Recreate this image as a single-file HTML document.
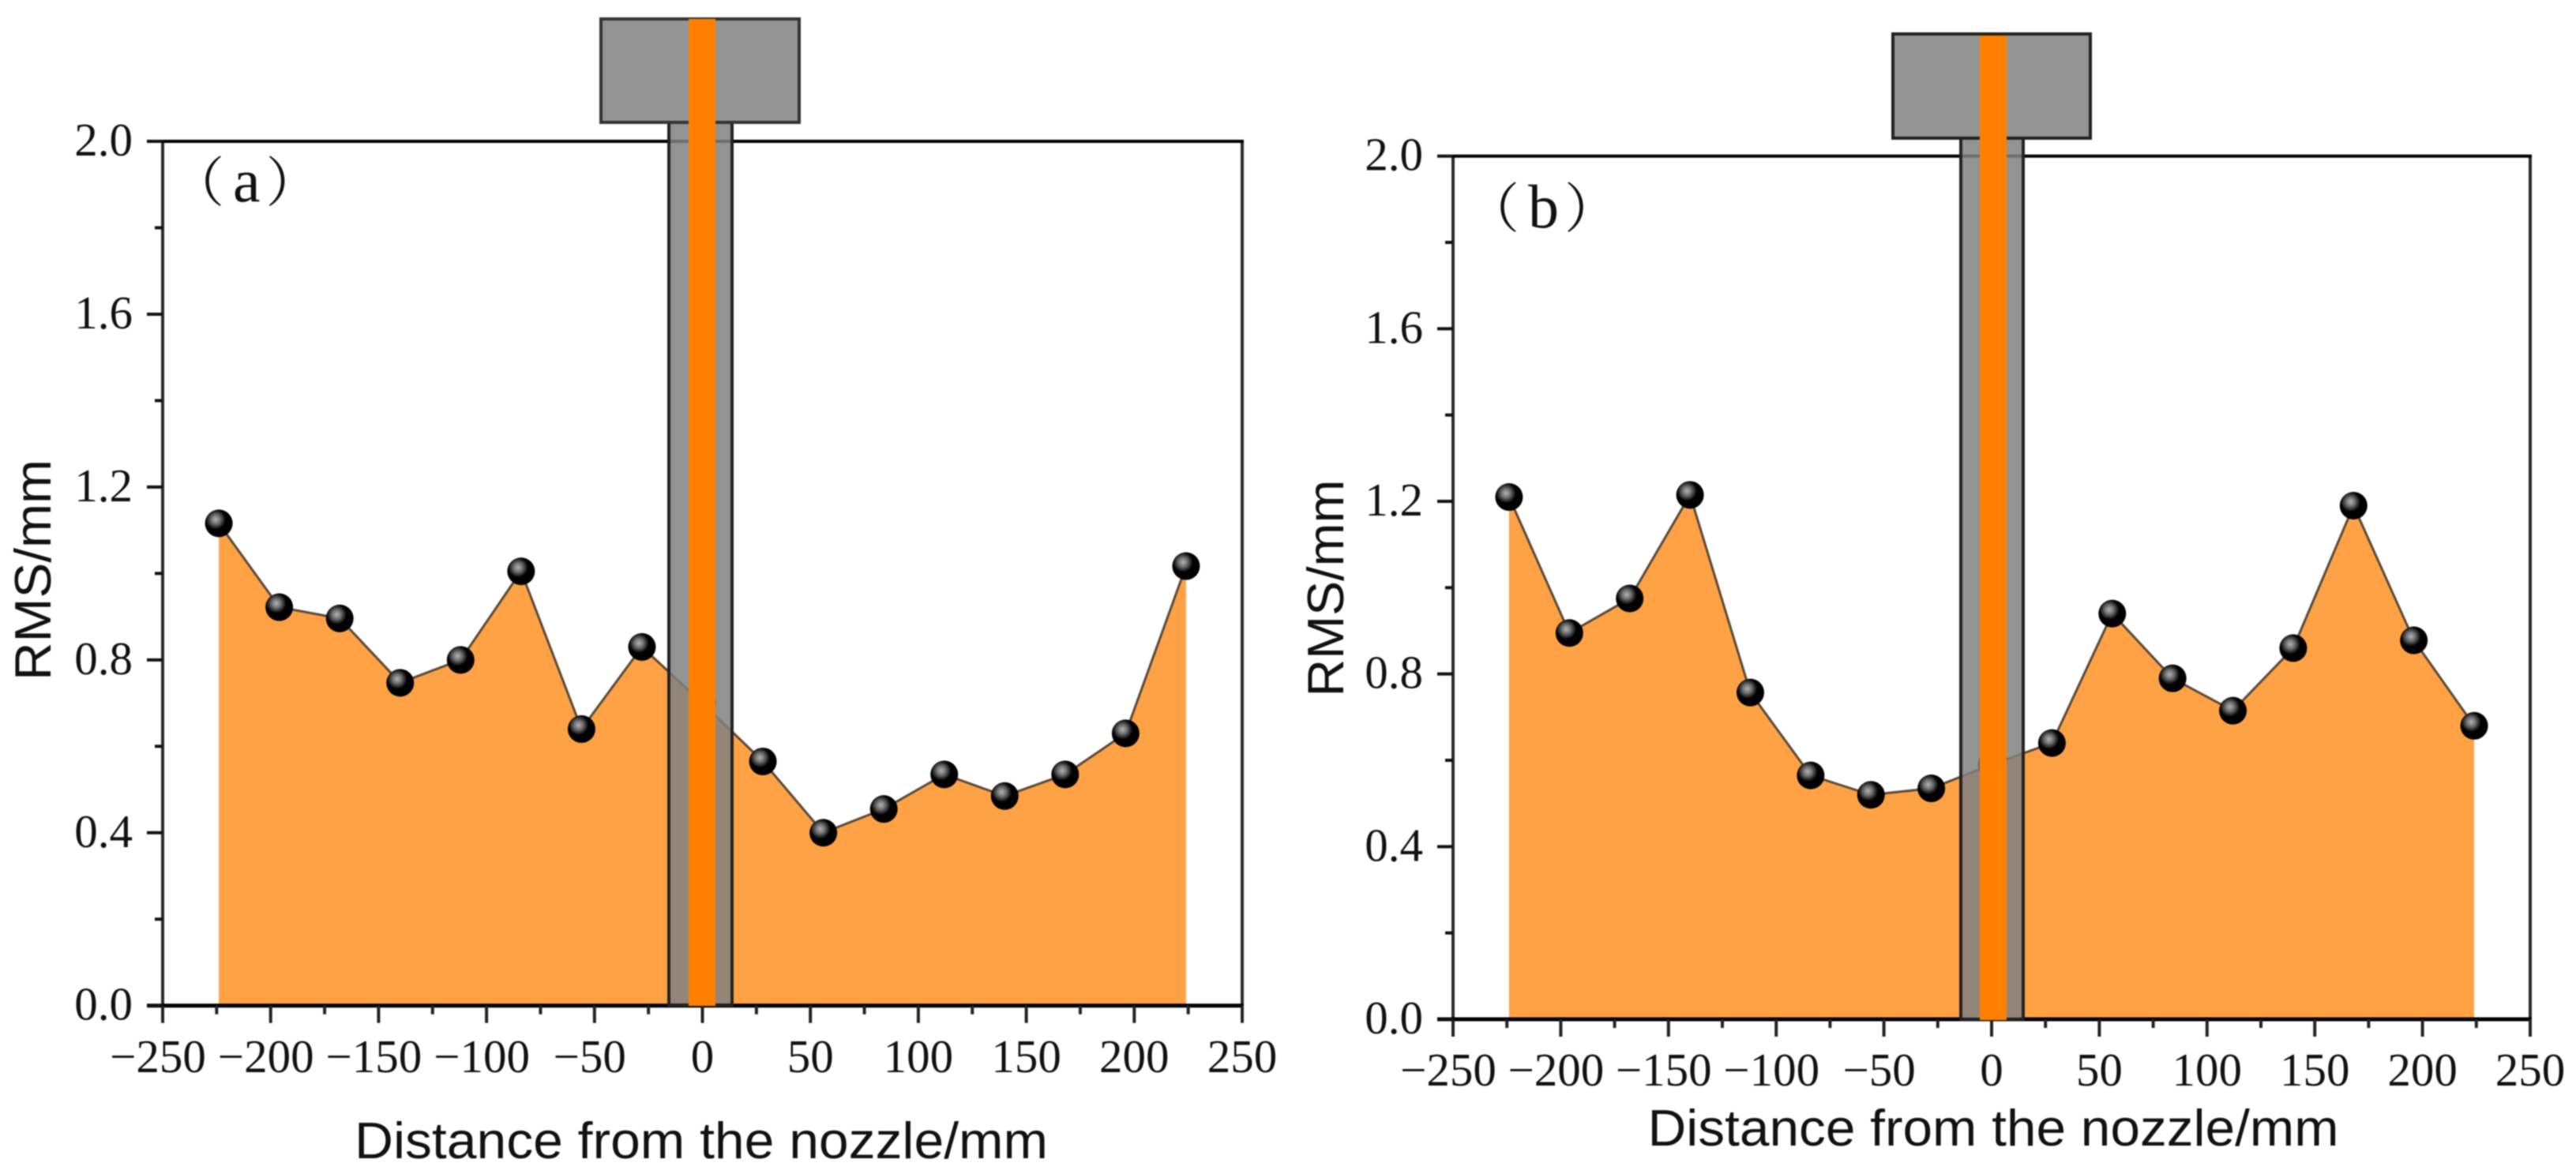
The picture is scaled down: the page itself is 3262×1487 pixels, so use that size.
<!DOCTYPE html>
<html lang="en">
<head>
<meta charset="utf-8">
<title>RMS vs distance from the nozzle</title>
<style>
html,body{margin:0;padding:0;background:#fff;}
svg{display:block;filter:blur(0.8px);}
text{fill:#111;}
.tick{font-family:"Liberation Serif",serif;font-size:59px;}
.title{font-family:"Liberation Sans",sans-serif;font-size:65px;}
.panel{font-family:"Liberation Serif","Noto Serif CJK SC",serif;font-size:68px;}
.panel-letter{font-size:78px;}
</style>
</head>
<body>
<svg id="figure" xmlns="http://www.w3.org/2000/svg" width="3262" height="1487" viewBox="0 0 3262 1487">
  <defs>
    <radialGradient id="ball" cx="0.39" cy="0.36" r="0.36">
      <stop offset="0" stop-color="#b4b4b4"/>
      <stop offset="0.45" stop-color="#707070"/>
      <stop offset="1" stop-color="#000"/>
    </radialGradient>
  </defs>
  <rect x="0" y="0" width="3262" height="1487" fill="#fff"/>

  <g id="plot-a"></g>
  <g>
    <rect x="847" y="155" width="80" height="1118" fill="#808080" fill-opacity="0.85" stroke="#222" stroke-width="4"/>
    <rect x="761" y="24" width="251" height="131" fill="#949494" stroke="#333" stroke-width="4"/>
    <rect x="872" y="24" width="34" height="1250" fill="#ff8000"/>
  </g>
  <text class="panel" x="216" y="255">（<tspan class="panel-letter" dx="11">a</tspan><tspan dx="7">）</tspan></text>
  <text class="title" x="888" y="1467" text-anchor="middle" textLength="878" lengthAdjust="spacingAndGlyphs">Distance from the nozzle/mm</text>
  <text class="title" transform="translate(64 722) rotate(-90)" text-anchor="middle" textLength="280" lengthAdjust="spacingAndGlyphs">RMS/mm</text>

  <g id="plot-b"></g>
  <g>
    <rect x="2483" y="175" width="79" height="1116" fill="#808080" fill-opacity="0.85" stroke="#222" stroke-width="4"/>
    <rect x="2397" y="43" width="250" height="132" fill="#949494" stroke="#222" stroke-width="4"/>
    <rect x="2507" y="45" width="34" height="1247" fill="#ff8000"/>
  </g>
  <text class="panel" x="1856" y="288">（<tspan class="panel-letter" dx="11">b</tspan><tspan dx="7">）</tspan></text>
  <text class="title" x="2524" y="1451" text-anchor="middle" textLength="875" lengthAdjust="spacingAndGlyphs">Distance from the nozzle/mm</text>
  <text class="title" transform="translate(1701 745) rotate(-90)" text-anchor="middle" textLength="275" lengthAdjust="spacingAndGlyphs">RMS/mm</text>
</svg>
<script>
const distances = [-224,-196,-168,-140,-112,-84,-56,-28,0,28,56,84,112,140,168,196,224];
const rmsA = [1.116,0.922,0.896,0.747,0.80,1.005,0.64,0.83,0.70,0.565,0.40,0.455,0.535,0.485,0.535,0.63,1.017];
const rmsB = [1.21,0.895,0.975,1.215,0.757,0.565,0.52,0.535,0.59,0.64,0.94,0.79,0.715,0.86,1.19,0.878,0.68];
const xMajorTicks = [-250,-200,-150,-100,-50,0,50,100,150,200,250];
const xMinorTicks = [-225,-175,-125,-75,-25,25,75,125,175,225];
const xTickLabels = ['\u2212250','\u2212200','\u2212150','\u2212100','\u221250','0','50','100','150','200','250'];
const yMajorTicks = [0,0.4,0.8,1.2,1.6,2.0];
const yMinorTicks = [0.2,0.6,1.0,1.4,1.8];
const yTickLabels = ['0.0','0.4','0.8','1.2','1.6','2.0'];

const NS = 'http://www.w3.org/2000/svg';
function mk(parent, tag, attrs) {
  const el = document.createElementNS(NS, tag);
  for (const k in attrs) el.setAttribute(k, attrs[k]);
  parent.appendChild(el);
  return el;
}

function drawPanel(rootId, values, box) {
  const root = document.getElementById(rootId);
  const x = v => box.left + (v + 250) / 500 * (box.right - box.left);
  const y = v => box.bottom - v / 2 * (box.bottom - box.top);

  let d = 'M' + x(distances[0]) + ' ' + y(0);
  distances.forEach((t, i) => { d += ' L' + x(t) + ' ' + y(values[i]); });
  d += ' L' + x(distances[distances.length - 1]) + ' ' + y(0) + ' Z';
  const area = mk(root, 'path', {d: d, fill: '#ffa246'});
  
  

  const line = mk(root, 'polyline', {
    points: distances.map((t, i) => x(t) + ',' + y(values[i])).join(' '),
    fill: 'none', stroke: '#5a4a38', 'stroke-width': 3
  });
  
  

  const frame = mk(root, 'path', {
    d: 'M' + box.left + ' ' + y(0) + ' V' + y(2) + ' M' + box.right + ' ' + y(2) + ' V' + y(0),
    fill: 'none', stroke: '#2a2a2a', 'stroke-width': 4
  });
  
  

  const topAxis = mk(root, 'line', {x1: box.left, x2: box.right + 2, y1: y(2), y2: y(2), stroke: '#000', 'stroke-width': 4});
  
  

  const xAxis = mk(root, 'line', {x1: box.left - 20, x2: box.right + 2, y1: y(0), y2: y(0), stroke: '#000', 'stroke-width': 5});
  
  

  xMajorTicks.forEach((t, i) => {
    const tick = mk(root, 'line', {x1: x(t), x2: x(t), y1: y(0), y2: y(0) + 22, stroke: '#222', 'stroke-width': 4});
    
    
    const label = mk(root, 'text', {x: x(t) + (t < 0 ? -6 : 0), y: box.xLabelY, 'text-anchor': 'middle', class: 'tick'});
    label.textContent = xTickLabels[i];
    
    
  });
  xMinorTicks.forEach(t => {
    const tick = mk(root, 'line', {x1: x(t), x2: x(t), y1: y(0), y2: y(0) + 11, stroke: '#222', 'stroke-width': 4});
    
    
  });
  yMajorTicks.forEach((t, i) => {
    const tick = mk(root, 'line', {x1: box.left - 20, x2: box.left, y1: y(t), y2: y(t), stroke: '#111', 'stroke-width': 4});
    
    
    const label = mk(root, 'text', {x: box.yLabelX, y: y(t) + 18, 'text-anchor': 'end', class: 'tick'});
    label.textContent = yTickLabels[i];
    
    
  });
  yMinorTicks.forEach(t => {
    const tick = mk(root, 'line', {x1: box.left - 10, x2: box.left, y1: y(t), y2: y(t), stroke: '#111', 'stroke-width': 4});
    
    
  });

  distances.forEach((t, i) => {
    const dot = mk(root, 'circle', {cx: x(t), cy: y(values[i]), r: 17.5, fill: 'url(#ball)'});
    
    
  });
}

drawPanel('plot-a', rmsA, {left: 206, right: 1573, top: 179, bottom: 1273.7, xLabelY: 1358, yLabelX: 168});
drawPanel('plot-b', rmsB, {left: 1840, right: 3204, top: 197.7, bottom: 1291, xLabelY: 1375, yLabelX: 1802});
</script>
</body>
</html>
